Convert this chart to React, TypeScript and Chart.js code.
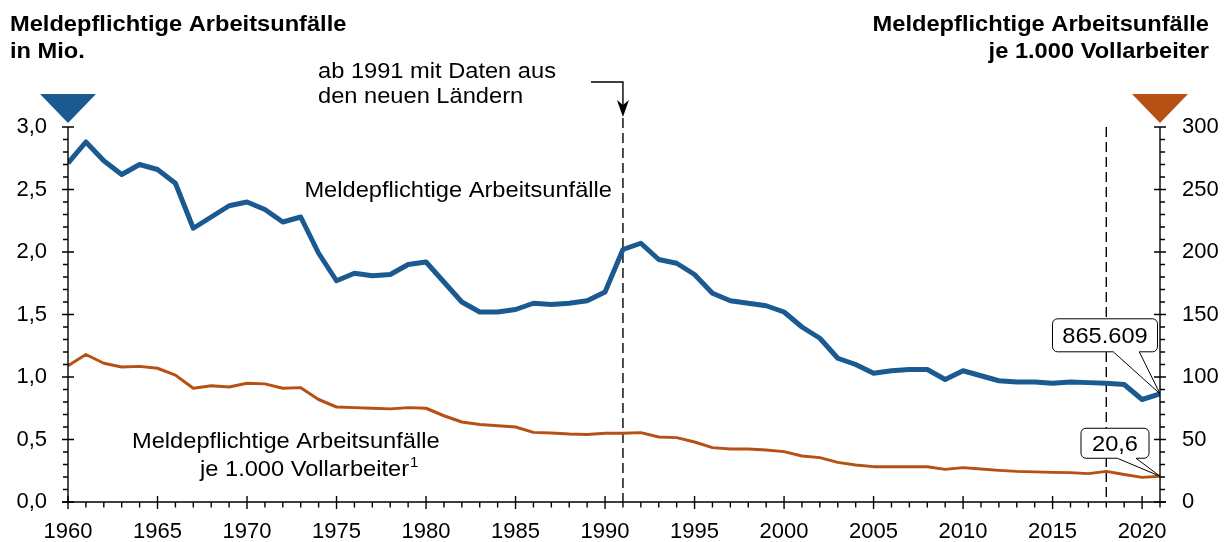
import React, { useEffect, useRef } from "react";
import { Chart, registerables } from "chart.js";

Chart.register(...registerables);

const years = [
  1960, 1961, 1962, 1963, 1964, 1965, 1966, 1967, 1968, 1969,
  1970, 1971, 1972, 1973, 1974, 1975, 1976, 1977, 1978, 1979,
  1980, 1981, 1982, 1983, 1984, 1985, 1986, 1987, 1988, 1989,
  1990, 1991, 1992, 1993, 1994, 1995, 1996, 1997, 1998, 1999,
  2000, 2001, 2002, 2003, 2004, 2005, 2006, 2007, 2008, 2009,
  2010, 2011, 2012, 2013, 2014, 2015, 2016, 2017, 2018, 2019,
  2020, 2021,
];

// Meldepflichtige Arbeitsunfälle in Mio.
const accidentsMio = [
  2.71, 2.88, 2.73, 2.62, 2.7, 2.66, 2.55, 2.19, 2.28, 2.37,
  2.4, 2.34, 2.24, 2.28, 1.99, 1.77, 1.83, 1.81, 1.82, 1.9,
  1.92, 1.76, 1.6, 1.52, 1.52, 1.54, 1.59, 1.58, 1.59, 1.61,
  1.68, 2.02, 2.07, 1.94, 1.91, 1.82, 1.67, 1.61, 1.59, 1.57,
  1.52, 1.4, 1.31, 1.15, 1.1, 1.03, 1.05, 1.06, 1.06, 0.98,
  1.05, 1.01, 0.97, 0.96, 0.96, 0.95, 0.96, 0.955, 0.95, 0.94,
  0.82, 0.865609,
];

// Meldepflichtige Arbeitsunfälle je 1.000 Vollarbeiter
const perThousandWorkers = [
  109, 118, 111, 108, 108.5, 107, 101.5, 91, 93, 92,
  95, 94.5, 91, 91.5, 82, 76, 75.5, 75, 74.5, 75.5,
  75, 69, 64, 62, 61, 60, 55.7, 55.2, 54.4, 54,
  55, 55, 55.5, 52, 51.5, 48, 43.5, 42.4, 42.4, 41.6,
  40.3, 36.8, 35.5, 31.7, 29.6, 28.3, 28.3, 28.2, 28.2, 26.1,
  27.5, 26.4, 25.3, 24.5, 24.1, 23.7, 23.5, 22.7, 24.5, 22,
  19.7, 20.6,
];

const leftTitle = ["Meldepflichtige Arbeitsunfälle", "in Mio."];
const rightTitle = ["Meldepflichtige Arbeitsunfälle", "je 1.000 Vollarbeiter"];
const noteLines = ["ab 1991 mit Daten aus", "den neuen Ländern"];
const blueLabel = "Meldepflichtige Arbeitsunfälle";
const orangeLabel = ["Meldepflichtige Arbeitsunfälle", "je 1.000 Vollarbeiter"];
const noteYear = 1991;
const markerYear = 2018;
const lastBlueLabel = "865.609";
const lastOrangeLabel = "20,6";

const BLUE = "#1A5A90";
const ORANGE = "#B75014";
const FONT = '"Liberation Sans", Arial, sans-serif';
const STRETCH = 1.075;

function drawText(
  ctx: CanvasRenderingContext2D,
  s: string,
  x: number,
  y: number,
  align: CanvasTextAlign,
  font: string
) {
  ctx.save();
  ctx.font = font;
  ctx.fillStyle = "#000";
  ctx.textBaseline = "alphabetic";
  ctx.translate(x, y);
  ctx.scale(STRETCH, 1);
  ctx.textAlign = align;
  ctx.fillText(s, 0, 0);
  ctx.restore();
}

function callout(
  ctx: CanvasRenderingContext2D,
  label: string,
  px: number,
  py: number,
  dx: number,
  dy: number,
  w: number,
  h: number,
  b1: number,
  b2: number
) {
  const cx = px + dx;
  const cy = py + dy;
  const l = cx - w / 2,
    r = cx + w / 2,
    t = cy - h / 2,
    bt = cy + h / 2,
    rad = 5;
  ctx.save();
  ctx.beginPath();
  ctx.moveTo(l + rad, t);
  ctx.lineTo(r - rad, t);
  ctx.arcTo(r, t, r, t + rad, rad);
  ctx.lineTo(r, bt - rad);
  ctx.arcTo(r, bt, r - rad, bt, rad);
  ctx.lineTo(px + b2, bt);
  ctx.lineTo(px, py);
  ctx.lineTo(px + b1, bt);
  ctx.lineTo(l + rad, bt);
  ctx.arcTo(l, bt, l, bt - rad, rad);
  ctx.lineTo(l, t + rad);
  ctx.arcTo(l, t, l + rad, t, rad);
  ctx.closePath();
  ctx.fillStyle = "#fff";
  ctx.fill();
  ctx.strokeStyle = "#000";
  ctx.lineWidth = 1;
  ctx.stroke();
  ctx.restore();
  drawText(ctx, label, cx, cy + 8, "center", `22px ${FONT}`);
}

const backgroundPlugin = {
  id: "behindLines",
  beforeDatasetsDraw(chart: any) {
    const ctx: CanvasRenderingContext2D = chart.ctx;
    const { x, y } = chart.scales;
    const area = chart.chartArea;
    ctx.save();
    ctx.strokeStyle = "#000";
    ctx.lineWidth = 1.4;
    ctx.setLineDash([10, 5]);
    const x1 = x.getPixelForValue(noteYear);
    ctx.beginPath();
    ctx.moveTo(x1, area.top - 9);
    ctx.lineTo(x1, area.bottom);
    ctx.stroke();
    const x2 = x.getPixelForValue(markerYear);
    ctx.beginPath();
    ctx.moveTo(x2, area.top);
    ctx.lineTo(x2, area.bottom);
    ctx.stroke();
    ctx.restore();
  },
};

const overlayPlugin = {
  id: "overlay",
  afterDraw(chart: any) {
    const ctx: CanvasRenderingContext2D = chart.ctx;
    const { x, y, y1 } = chart.scales;
    const area = chart.chartArea;
    const L = area.left,
      R = area.right,
      T = area.top,
      B = area.bottom;

    // axes
    ctx.save();
    ctx.strokeStyle = "#000";
    ctx.lineWidth = 1.4;
    ctx.beginPath();
    ctx.moveTo(L, T);
    ctx.lineTo(L, B);
    ctx.moveTo(R, T);
    ctx.lineTo(R, B);
    ctx.moveTo(L - 6, B);
    ctx.lineTo(R + 6, B);
    ctx.stroke();

    ctx.beginPath();
    // left ticks
    for (let i = 0; i <= 30; i++) {
      const v = i / 10;
      const py = y.getPixelForValue(v);
      if (i % 5 === 0) {
        ctx.moveTo(L - 6, py);
        ctx.lineTo(L + 6, py);
      } else {
        ctx.moveTo(L - 5, py);
        ctx.lineTo(L, py);
      }
    }
    // right ticks
    for (let i = 0; i <= 30; i++) {
      const v = i * 10;
      const py = y1.getPixelForValue(v);
      if (i % 5 === 0) {
        ctx.moveTo(R - 6, py);
        ctx.lineTo(R + 6, py);
      } else {
        ctx.moveTo(R, py);
        ctx.lineTo(R + 5, py);
      }
    }
    // x ticks
    for (let yr = years[0]; yr <= years[years.length - 1]; yr++) {
      const px = x.getPixelForValue(yr);
      if (yr % 5 === 0) {
        ctx.moveTo(px, B - 6);
        ctx.lineTo(px, B + 7);
      } else {
        ctx.moveTo(px, B);
        ctx.lineTo(px, B + 5.5);
      }
    }
    ctx.stroke();

    // arrow for 1991 note
    const ax = x.getPixelForValue(noteYear);
    ctx.beginPath();
    ctx.moveTo(591, 82);
    ctx.lineTo(ax, 82);
    ctx.lineTo(ax, 108);
    ctx.stroke();
    ctx.beginPath();
    ctx.moveTo(ax, 117);
    ctx.lineTo(ax - 6, 100);
    ctx.lineTo(ax, 105);
    ctx.lineTo(ax + 6, 100);
    ctx.closePath();
    ctx.fillStyle = "#000";
    ctx.fill();

    // axis markers (triangles)
    ctx.fillStyle = BLUE;
    ctx.beginPath();
    ctx.moveTo(L - 28, 94);
    ctx.lineTo(L + 28, 94);
    ctx.lineTo(L, 123);
    ctx.closePath();
    ctx.fill();
    ctx.fillStyle = ORANGE;
    ctx.beginPath();
    ctx.moveTo(R - 28, 94);
    ctx.lineTo(R + 28, 94);
    ctx.lineTo(R, 123);
    ctx.closePath();
    ctx.fill();
    ctx.restore();

    // titles
    const bold = `bold 22px ${FONT}`;
    const reg = `22px ${FONT}`;
    drawText(ctx, leftTitle[0], 10, 31, "left", bold);
    drawText(ctx, leftTitle[1], 10, 58, "left", bold);
    drawText(ctx, rightTitle[0], 1209, 31, "right", bold);
    drawText(ctx, rightTitle[1], 1209, 58, "right", bold);

    drawText(ctx, noteLines[0], 318, 78, "left", reg);
    drawText(ctx, noteLines[1], 318, 103, "left", reg);

    drawText(ctx, blueLabel, 612, 197, "right", reg);
    drawText(ctx, orangeLabel[0], 132, 448, "left", reg);
    drawText(ctx, orangeLabel[1], 200, 476, "left", reg);
    ctx.save();
    ctx.font = reg;
    const w2 = ctx.measureText(orangeLabel[1]).width * STRETCH;
    ctx.restore();
    drawText(ctx, "1", 200 + w2 + 1, 467, "left", `14px ${FONT}`);

    // end-value callouts
    const last = years.length - 1;
    const pxEnd = x.getPixelForValue(years[last]);
    const pyBlue = y.getPixelForValue(accidentsMio[last]);
    const pyOrange = y1.getPixelForValue(perThousandWorkers[last]);
    callout(ctx, lastBlueLabel, pxEnd, pyBlue, -55, -58.5, 105, 33, -46.7, -20.7);
    callout(ctx, lastOrangeLabel, pxEnd, pyOrange, -45, -33, 68, 30, -42.7, -24);
  },
};

export default function App() {
  const ref = useRef<HTMLCanvasElement>(null);

  useEffect(() => {
    if (!ref.current) return;
    const tickFont = { family: FONT, size: 22 };
    const chart = new Chart(ref.current, {
      type: "line",
      data: {
        datasets: [
          {
            label: blueLabel,
            data: years.map((yr, i) => ({ x: yr, y: accidentsMio[i] })),
            yAxisID: "y",
            borderColor: BLUE,
            backgroundColor: BLUE,
            borderWidth: 5,
            pointRadius: 0,
            tension: 0,
            borderJoinStyle: "round",
          },
          {
            label: orangeLabel.join(" "),
            data: years.map((yr, i) => ({ x: yr, y: perThousandWorkers[i] })),
            yAxisID: "y1",
            borderColor: ORANGE,
            backgroundColor: ORANGE,
            borderWidth: 3,
            pointRadius: 0,
            tension: 0,
            borderJoinStyle: "round",
          },
        ],
      },
      options: {
        responsive: false,
        animation: false,
        devicePixelRatio: 1,
        layout: { padding: { top: 127, left: 0, right: 0, bottom: 0 } },
        plugins: {
          legend: { display: false },
          tooltip: { enabled: false },
        },
        scales: {
          x: {
            type: "linear",
            min: years[0],
            max: years[years.length - 1],
            grid: { display: false, drawTicks: false },
            border: { display: false },
            ticks: {
              stepSize: 5,
              includeBounds: false,
              padding: 17,
              font: tickFont,
              color: "#000",
              maxRotation: 0,
              autoSkip: false,
              callback: (v: any) => String(v),
            },
            afterFit: (s: any) => {
              s.height = 40;
            },
          },
          y: {
            type: "linear",
            position: "left",
            min: 0,
            max: 3,
            grid: { display: false, drawTicks: false },
            border: { display: false },
            ticks: {
              stepSize: 0.5,
              padding: 21,
              font: tickFont,
              color: "#000",
              callback: (v: any) => Number(v).toFixed(1).replace(".", ","),
            },
            afterFit: (s: any) => {
              s.width = 68;
            },
          },
          y1: {
            type: "linear",
            position: "right",
            min: 0,
            max: 300,
            grid: { display: false, drawTicks: false },
            border: { display: false },
            ticks: {
              stepSize: 50,
              padding: 22,
              font: tickFont,
              color: "#000",
              callback: (v: any) => String(v),
            },
            afterFit: (s: any) => {
              s.width = 69;
            },
          },
        },
      },
      plugins: [backgroundPlugin, overlayPlugin],
    } as any);
    return () => chart.destroy();
  }, []);

  return (
    <canvas
      ref={ref}
      width={1229}
      height={542}
      style={{ position: "fixed", left: 0, top: 0, display: "block" }}
    />
  );
}
